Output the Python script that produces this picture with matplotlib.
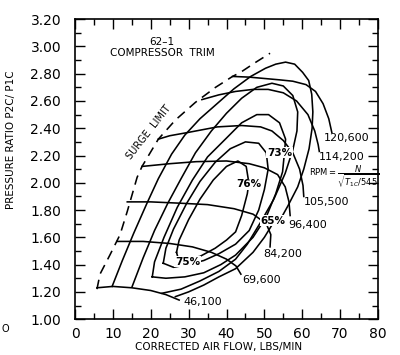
import matplotlib
matplotlib.use("Agg")
import matplotlib.pyplot as plt
from matplotlib.ticker import MultipleLocator, FormatStrFormatter

# surge limit (dashed)
surge_x = [5.8, 6.6, 9.3, 11.9, 13.8, 16.4, 17.7, 22.0, 26.5, 31.8, 37.1, 41.6, 43.7, 47.5, 51.5]
surge_y = [1.22, 1.33, 1.475, 1.62, 1.79, 2.04, 2.12, 2.32, 2.46, 2.59, 2.70, 2.78, 2.81, 2.88, 2.95]

# corrected speed lines
speed_lines = {
    "46,100": ([5.8, 10, 15, 20, 24, 27.5],
               [1.23, 1.24, 1.23, 1.21, 1.18, 1.14]),
    "69,600": ([11.1, 18, 25, 31, 36, 40, 42.5, 43.8],
               [1.57, 1.57, 1.555, 1.53, 1.49, 1.44, 1.39, 1.33]),
    "84,200": ([13.8, 20, 28, 35, 42, 47, 50.5, 51.7, 51.5],
               [1.86, 1.86, 1.85, 1.84, 1.81, 1.77, 1.70, 1.62, 1.53]),
    "96,400": ([17.7, 25, 32, 40, 46, 50, 53.5, 55.5, 56.5, 56.8],
               [2.12, 2.14, 2.155, 2.16, 2.14, 2.11, 2.06, 1.97, 1.86, 1.76]),
    "105,500": ([22.0, 25, 30, 37.6, 44, 49, 52, 55, 57.5, 59.3, 60.2, 60.4],
                [2.32, 2.345, 2.37, 2.41, 2.42, 2.41, 2.38, 2.31, 2.22, 2.10, 1.98, 1.90]),
    "114,200": ([33.5, 38, 42.4, 47, 51, 55, 58.5, 61.5, 63.3, 64.2, 64.5],
                [2.61, 2.645, 2.67, 2.685, 2.685, 2.66, 2.60, 2.50, 2.38, 2.28, 2.23]),
    "120,600": ([41.6, 46, 50, 54, 57.5, 61, 63.5, 65.5, 67, 67.8],
                [2.78, 2.775, 2.765, 2.755, 2.745, 2.72, 2.67, 2.58, 2.47, 2.37]),
}
speed_label_pos = {
    "46,100": (28.6, 1.125), "69,600": (44.2, 1.29), "84,200": (49.8, 1.475),
    "96,400": (56.4, 1.69), "105,500": (60.4, 1.86), "114,200": (64.4, 2.19),
    "120,600": (65.7, 2.33),
}

# efficiency islands
eff_65_x = [9.8, 12.5, 15.5, 19.0, 22.0, 25.5, 29.0, 33.0, 37.5, 42.0, 46.4, 50.3, 53.0, 55.6, 58.0,
            60.1, 61.7, 62.5, 62.8, 62.6, 61.8, 60.4, 58.8, 56.2, 54.8, 52.2, 50.0, 47.0, 42.4, 38.0,
            34.0, 30.0, 26.5]
eff_65_y = [1.24, 1.43, 1.63, 1.85, 2.03, 2.21, 2.35, 2.47, 2.58, 2.69, 2.78, 2.84, 2.87, 2.885, 2.87,
            2.81, 2.75, 2.65, 2.52, 2.40, 2.25, 2.10, 1.97, 1.83, 1.76, 1.70, 1.60, 1.49, 1.37, 1.31,
            1.25, 1.20, 1.165]
eff_70_x = [15.1, 18.0, 21.0, 24.5, 28.0, 31.8, 36.0, 40.0, 44.0, 48.0, 52.0, 55.0, 57.5, 58.8, 58.6,
            57.5, 55.5, 52.5, 49.0, 45.5, 42.4, 38.0, 33.0, 28.0, 23.0]
eff_70_y = [1.24, 1.45, 1.65, 1.85, 2.03, 2.22, 2.38, 2.51, 2.62, 2.70, 2.73, 2.71, 2.64, 2.52, 2.38,
            2.24, 2.07, 1.88, 1.71, 1.55, 1.44, 1.35, 1.28, 1.22, 1.19]
eff_73_x = [20.4, 21.0, 23.5, 27.0, 31.0, 35.0, 39.7, 44.0, 48.0, 51.1, 54.0, 55.6, 55.3, 54.8, 53.0,
            50.5, 47.0, 42.4, 38.5, 34.0, 29.0, 24.0, 20.4]
eff_73_y = [1.31, 1.42, 1.60, 1.82, 2.02, 2.19, 2.32, 2.44, 2.50, 2.50, 2.44, 2.32, 2.22, 2.08, 1.92,
            1.75, 1.60, 1.47, 1.40, 1.34, 1.31, 1.30, 1.31]
eff_75_x = [23.3, 24.0, 26.0, 29.5, 33.0, 37.0, 41.0, 45.0, 48.5, 50.5, 51.0, 50.0, 48.5, 46.0, 42.4,
            38.0, 34.0, 29.7, 26.0, 23.3]
eff_75_y = [1.41, 1.52, 1.66, 1.85, 2.01, 2.15, 2.25, 2.30, 2.29, 2.22, 2.10, 1.95, 1.80, 1.65, 1.55,
            1.48, 1.43, 1.40, 1.38, 1.41]
eff_76_x = [26.8, 27.5, 30.0, 33.0, 36.5, 40.0, 43.0, 45.2, 45.9, 45.5, 44.0, 42.4, 40.0, 37.0, 33.0,
            29.1, 27.2, 26.8]
eff_76_y = [1.49, 1.58, 1.73, 1.88, 2.02, 2.12, 2.16, 2.12, 2.00, 1.92, 1.76, 1.64, 1.58, 1.52, 1.46,
            1.44, 1.45, 1.49]
eff_labels = [("65%", 52.2, 1.72), ("73%", 54.0, 2.22), ("76%", 45.8, 1.99), ("75%", 29.7, 1.42)]

fig = plt.figure(figsize=(4.0, 3.55), dpi=100)
ax = fig.add_axes([0.1875, 0.101, 0.7575, 0.845])

lw = 1.15
ax.plot(surge_x, surge_y, color="black", lw=lw, dashes=(6, 4))
for name, (xs, ys) in speed_lines.items():
    ax.plot(xs, ys, color="black", lw=lw)
    lx, ly = speed_label_pos[name]
    ax.text(lx, ly, name, fontsize=8, ha="left", va="center")

for xs, ys in [(eff_65_x, eff_65_y), (eff_70_x, eff_70_y), (eff_73_x, eff_73_y),
               (eff_75_x, eff_75_y), (eff_76_x, eff_76_y)]:
    ax.plot(xs, ys, color="black", lw=lw, solid_joinstyle="round")
for txt, x, y in eff_labels:
    ax.text(x, y, txt, fontsize=7.5, fontweight="bold", ha="center", va="center",
            bbox=dict(boxstyle="square,pad=0.05", fc="white", ec="none"))

ax.text(23.0, 3.03, "62\u20131", fontsize=7.5, ha="center", va="center")
ax.text(23.0, 2.955, "COMPRESSOR  TRIM", fontsize=7.5, ha="center", va="center")
ax.text(19.6, 2.37, "SURGE  LIMIT", fontsize=7, rotation=52, ha="center", va="center")
ax.text(61.8, 2.045, r"RPM$=\dfrac{N}{\sqrt{T_{1C}/545}}$", fontsize=6, ha="left", va="center")

ax.set_xlim(0, 80)
ax.set_ylim(1.0, 3.2)
ax.xaxis.set_major_locator(MultipleLocator(10))
ax.xaxis.set_minor_locator(MultipleLocator(5))
ax.yaxis.set_major_locator(MultipleLocator(0.2))
ax.yaxis.set_minor_locator(MultipleLocator(0.1))
ax.yaxis.set_major_formatter(FormatStrFormatter("%.2f"))
ax.tick_params(which="both", direction="in", top=True, right=True, width=1.0, labelsize=10)
ax.tick_params(which="major", length=7)
ax.tick_params(which="minor", length=4)
ax.tick_params(axis="y", pad=10)
ax.tick_params(axis="x", pad=6)
for s in ax.spines.values():
    s.set_linewidth(1.2)

fig.text(11 / 400, 1 - 140 / 355, "PRESSURE RATIO P2C/ P1C", rotation=90, fontsize=7.5,
         ha="center", va="center")
fig.text(219 / 400, 1 - 347 / 355, "CORRECTED AIR FLOW, LBS/MIN", fontsize=7.5,
         ha="center", va="center")
fig.text(5 / 400, 1 - 329 / 355, "O", fontsize=7, ha="center", va="center")

fig.savefig("out.png", dpi=100)
